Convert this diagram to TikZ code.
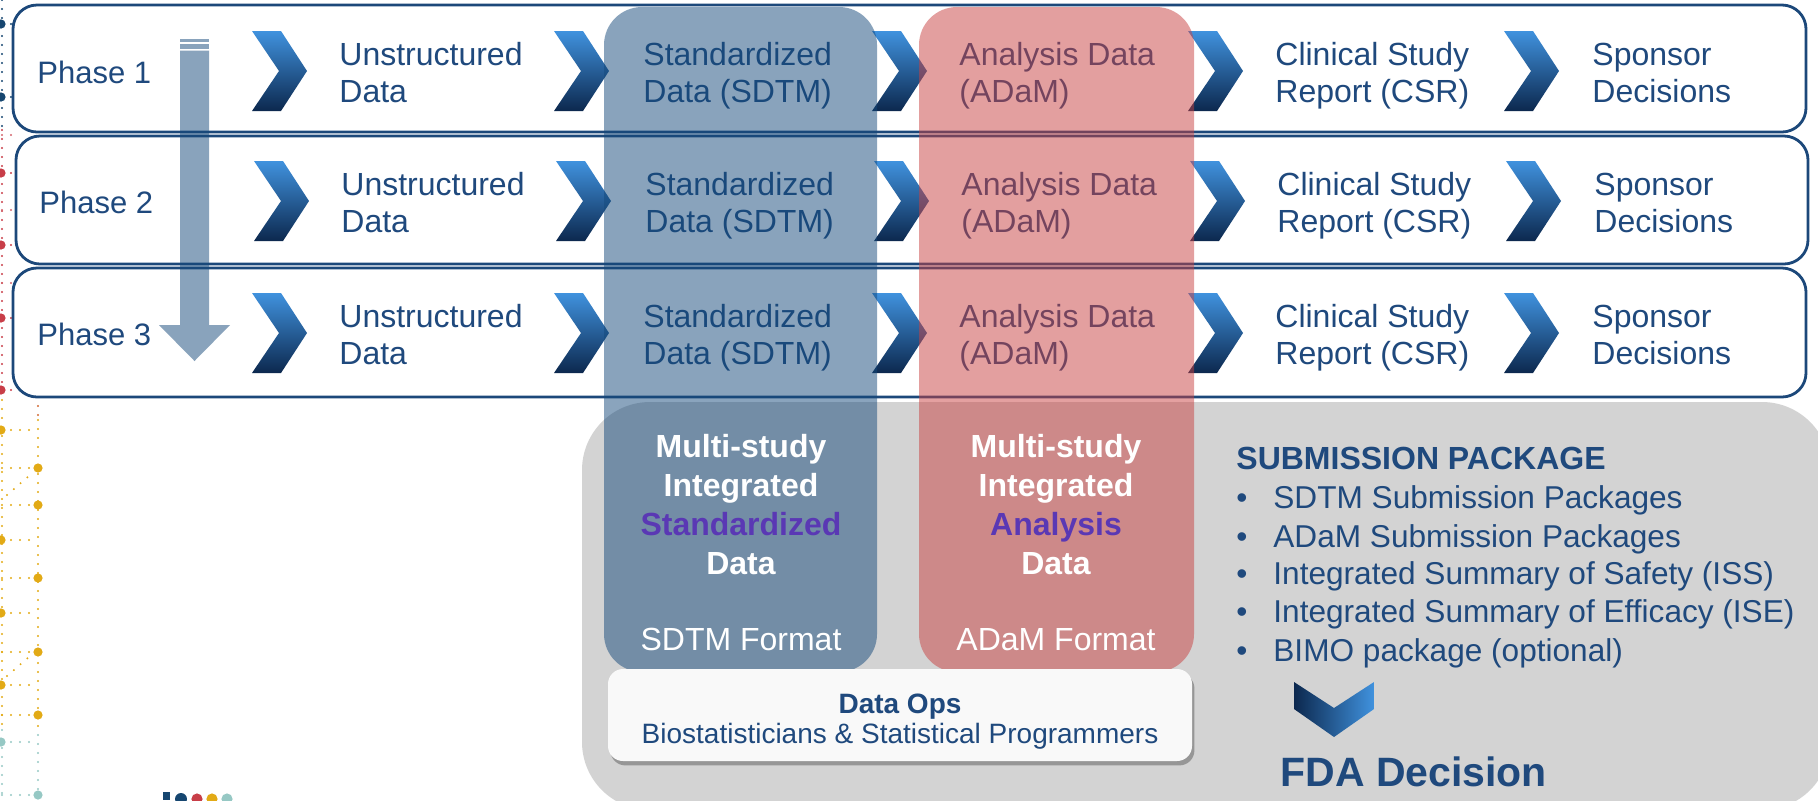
\documentclass[tikz,border=0pt]{standalone}
\usepackage{fontspec}
\setmainfont{Liberation Sans}
\usetikzlibrary{shadows}

\definecolor{txtblue}{RGB}{31,73,125}
\definecolor{rowline}{RGB}{28,72,122}
\definecolor{colblue}{RGB}{21,73,123}
\definecolor{colred}{RGB}{201,65,65}
\definecolor{panelgray}{RGB}{211,211,211}
\definecolor{purp}{RGB}{90,56,180}
\definecolor{chevtop}{RGB}{64,146,222}
\definecolor{chevbot}{RGB}{12,40,78}
\definecolor{opsfill}{RGB}{249,249,249}
\definecolor{dnavy}{RGB}{22,70,112}
\definecolor{dred}{RGB}{200,62,72}
\definecolor{dgold}{RGB}{226,170,22}
\definecolor{dteal}{RGB}{150,200,196}

% two left-aligned lines whose baseline is that of the first line
\newcommand\twolines[2]{\begin{tabular}[t]{@{}l@{}}#1\\#2\end{tabular}}

\begin{document}
\begin{tikzpicture}[x=0.5pt,y=-0.5pt,
  rowbox/.style={draw=rowline, line width=1.4pt, fill=white, rounded corners=12pt},
  chevron/.style={top color=chevtop, bottom color=chevbot},
  rowtxt/.style={anchor=base west, inner sep=0pt, text=txtblue,
    font=\fontsize{16pt}{18.5pt}\selectfont},
  phasetxt/.style={anchor=base west, inner sep=0pt, text=txtblue,
    font=\fontsize{15.5pt}{18pt}\selectfont},
  bluecol/.style={fill=colblue, fill opacity=0.5, rounded corners=19pt},
  redcol/.style={fill=colred, fill opacity=0.5, rounded corners=19pt},
  coltxt/.style={anchor=base, inner sep=0pt, text=white,
    font=\bfseries\fontsize{16pt}{19.5pt}\selectfont},
  fmttxt/.style={anchor=base, inner sep=0pt, text=white,
    font=\fontsize{16pt}{19pt}\selectfont},
  opshead/.style={anchor=base, inner sep=0pt, text=txtblue,
    font=\bfseries\fontsize{14pt}{16pt}\selectfont},
  opstxt/.style={anchor=base, inner sep=0pt, text=txtblue,
    font=\fontsize{14pt}{16pt}\selectfont},
  subhead/.style={anchor=base west, inner sep=0pt, text=txtblue,
    font=\bfseries\fontsize{16pt}{19pt}\selectfont},
  subtxt/.style={anchor=base west, inner sep=0pt, text=txtblue,
    font=\fontsize{15.8pt}{19pt}\selectfont},
  fdatxt/.style={anchor=base west, inner sep=0pt, text=txtblue,
    font=\bfseries\fontsize{20.5pt}{24pt}\selectfont},
  dots/.style={line width=1.1pt, line cap=round, dash pattern=on 0pt off 4.5pt},
  bigdot/.style={radius=2.3pt}
]
\useasboundingbox (0,0) rectangle (1818,800);
\clip (0,0) rectangle (1818,800);

% ---- dotted network along the left edge ----
\draw[dots, dnavy] (2,0) -- (2,130);
\draw[dots, dred] (2,130) -- (2,400);
\draw[dots, dgold] (2,400) -- (2,730);
\draw[dots, dteal] (2,730) -- (2,800);
\draw[dots, dred!60!dgold] (38,397) -- (38,420);
\draw[dots, dgold] (38,420) -- (38,735);
\draw[dots, dteal] (38,735) -- (38,800);
\foreach \y in {24,97}{\draw[dots, dnavy] (2,\y) -- (12,\y);}
\foreach \y in {135,210,283}{\draw[dots, dred!80] (2,\y) -- (14,\y);}
\foreach \y in {173,245,318,390}{\draw[dots, dred] (2,\y) -- (12,\y);}
\foreach \y in {430,468,505,540,578,613,652,685,715}{\draw[dots, dgold] (2,\y) -- (38,\y);}
\foreach \y in {742,795}{\draw[dots, dteal] (2,\y) -- (38,\y);}
\draw[dots, dgold] (7,495) -- (30,475);
\draw[dots, dgold] (7,676) -- (30,656);
\foreach \y in {24,97}{\fill[dnavy] (1,\y) circle[bigdot];}
\foreach \y in {173,245,318,390}{\fill[dred] (1,\y) circle[bigdot];}
\foreach \y in {430,540,613,685}{\fill[dgold] (1,\y) circle[bigdot];}
\foreach \y in {468,505,578,652,715}{\fill[dgold] (38,\y) circle[bigdot];}
\fill[dteal] (1,742) circle[bigdot];
\fill[dteal] (38,795) circle[bigdot];

% ---- small logo marks at the bottom ----
\fill[dnavy] (163,792) rectangle (170,800);
\fill[dnavy] (181,799) circle[radius=3pt];
\fill[dred] (197,799) circle[radius=2.8pt];
\fill[dgold] (212,799) circle[radius=2.8pt];
\fill[dteal] (227,799) circle[radius=2.8pt];

% ---- the three phase rows ----
\draw[rowbox] (13,5) rectangle (1806,132);
\draw[rowbox] (16,136) rectangle (1808,264);
\draw[rowbox] (13,268) rectangle (1806,397);

\foreach \cy/\dx in {71/0, 201/2, 333/0}{
  \foreach \cx in {252,554,872,1188,1504}{
    \shade[chevron, shift={(\cx+\dx,\cy)}]
      (0,-40) -- (29,-40) -- (55,0) -- (29,40) -- (0,40) -- (27,0) -- cycle;
  }
}

\foreach \r/\by/\pb/\dx in {1/65/83/0, 2/195/213/2, 3/327/345/0}{
  \node[phasetxt] (ph\r) at (37+\dx,\pb) {Phase \r};
  \node[rowtxt] (u\r) at (339+\dx,\by) {\twolines{Unstructured}{Data}};
  \node[rowtxt] (s\r) at (643+\dx,\by) {\twolines{Standardized}{Data (SDTM)}};
  \node[rowtxt] (a\r) at (959+\dx,\by) {\twolines{Analysis Data}{(ADaM)}};
  \node[rowtxt] (c\r) at (1275+\dx,\by) {\twolines{Clinical Study}{Report (CSR)}};
  \node[rowtxt] (p\r) at (1592+\dx,\by) {\twolines{Sponsor}{Decisions}};
}

% ---- grey submission panel ----
\fill[panelgray, rounded corners=34pt] (582,402) rectangle (1830,810);

% ---- phase progression arrow ----
\begin{scope}[fill=colblue, fill opacity=0.5]
  \fill (180,39) rectangle (209,41.5);
  \fill (180,43.5) rectangle (209,48.5);
  \fill (180,50.5) -- (209,50.5) -- (209,325) -- (230,325) -- (194.5,361)
        -- (159,325) -- (180,325) -- cycle;
\end{scope}

% ---- SDTM and ADaM columns ----
\fill[bluecol] (604,7) rectangle (877,672);
\fill[redcol] (919,7) rectangle (1194,672);

\node[coltxt] (sdtmint) at (741,457) {\begin{tabular}[t]{@{}c@{}}Multi-study\\Integrated\\
  \textcolor{purp}{Standardized}\\Data\end{tabular}};
\node[fmttxt] (sdtmfmt) at (741,650) {SDTM Format};
\node[coltxt] (adamint) at (1056,457) {\begin{tabular}[t]{@{}c@{}}Multi-study\\Integrated\\
  \textcolor{purp}{Analysis}\\Data\end{tabular}};
\node[fmttxt] (adamfmt) at (1056,650) {ADaM Format};

% ---- Data Ops box ----
\fill[opsfill, rounded corners=7.5pt,
  drop shadow={shadow xshift=1.2pt, shadow yshift=-2.2pt, opacity=0.45, fill=black!70}]
  (608,669) rectangle (1192,761);
\node[opshead] (ops) at (900,713) {Data Ops};
\node[opstxt] (opsteam) at (900,743) {Biostatisticians \& Statistical Programmers};

% ---- submission package list ----
\node[subhead] (subpkg) at (1236,469) {SUBMISSION PACKAGE};
\foreach \i/\y/\t in {1/508/{SDTM Submission Packages},
                      2/547/{ADaM Submission Packages},
                      3/584/{Integrated Summary of Safety (ISS)},
                      4/622/{Integrated Summary of Efficacy (ISE)},
                      5/661/{BIMO package (optional)}}{
  \node[subtxt] (bul\i) at (1236,\y) {\textbullet};
  \node[subtxt] (item\i) at (1273,\y) {\t};
}

% ---- down chevron and FDA decision ----
\shade[left color=chevbot, right color=chevtop]
  (1294,682) -- (1334,708) -- (1374,682) -- (1374,709) -- (1334,737) -- (1294,709) -- cycle;
\node[fdatxt] (fda) at (1280,786) {FDA Decision};

\end{tikzpicture}
\end{document}
